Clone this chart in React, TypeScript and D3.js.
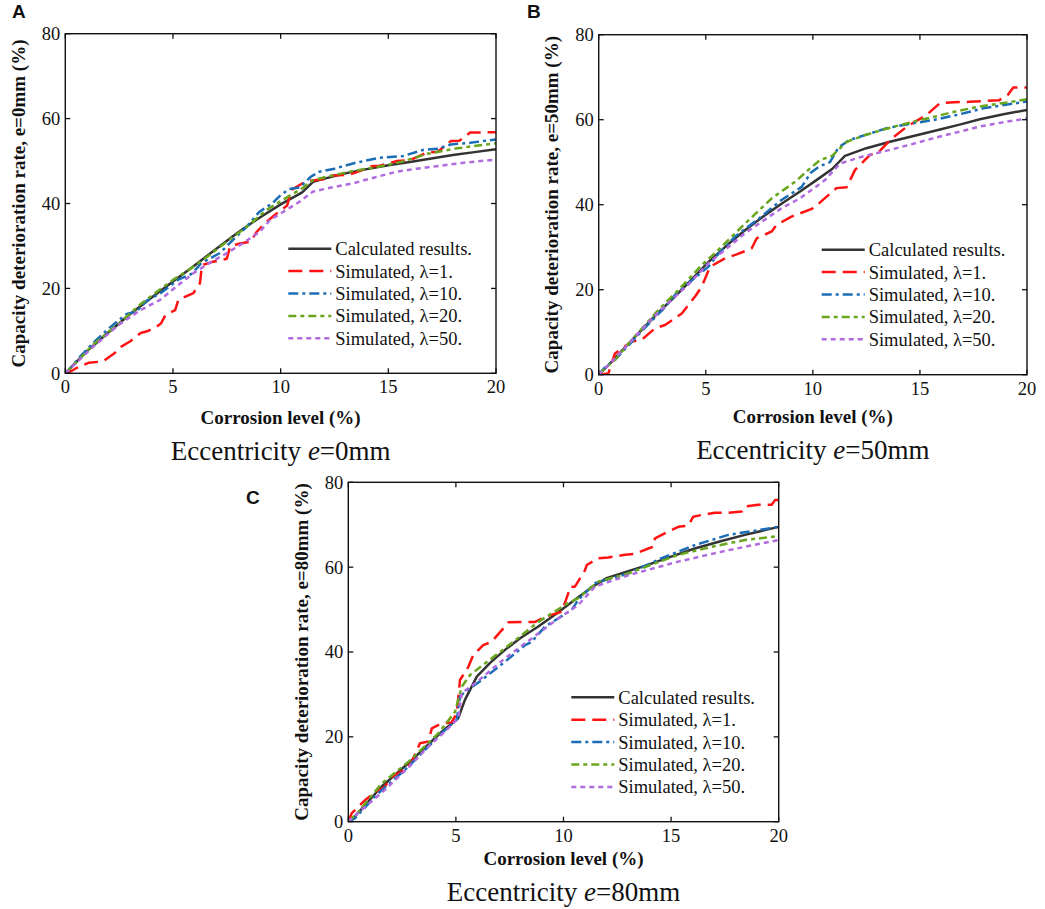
import * as d3 from 'd3';

type Pt = [number, number];

// ticks and legend
const xTicks = [0, 5, 10, 15, 20];
const yTicks = [0, 20, 40, 60, 80];
const seriesNames = ['Calculated results.', 'Simulated, λ=1.', 'Simulated, λ=10.', 'Simulated, λ=20.', 'Simulated, λ=50.'];
const seriesColors = ['#333333', '#ff1212', '#1b6db5', '#69a61e', '#b16be0'];
const seriesDash = ['', '14,7', '10,4,3,4', '8,4,4,4', '5,4'];

// panel A, e=0mm
const aCalc: Pt[] = [[0,0],[1,5.2],[2,9.6],[3,13.9],[4,17.8],[5,21.6],[6,25.4],[7,29.3],[8,33.1],[9,36.6],[10,39.8],[11,42.6],[11.5,45.1],[12,45.8],[13,47.1],[14,48.1],[15,49],[16,49.8],[17,50.6],[18,51.4],[19,52.1],[20,52.8]];
const aL1: Pt[] = [[0,0],[0.3,0.6],[0.5,1.2],[1.1,2.5],[1.75,2.8],[2.3,4.8],[2.6,6.3],[3,7.5],[3.5,9.5],[3.8,9.9],[4.25,11],[4.45,11.8],[4.65,13.7],[5.1,14.9],[5.25,17.3],[5.95,18.9],[6.25,21.2],[6.35,25.5],[6.8,26.2],[7.5,27],[7.65,29.8],[8.1,30.6],[8.6,31],[8.9,33.4],[9.35,35.7],[9.8,37.6],[10.3,39.5],[10.5,43.2],[11.2,45.3],[12,45.7],[12.4,46.6],[13.2,46.8],[13.6,47.5],[14.2,48.8],[14.6,48.9],[15.4,50],[16,50.2],[16.8,52],[17.3,52.2],[17.9,54.7],[18.3,54.8],[18.8,56.7],[20,56.8]];
const aL10: Pt[] = [[0,0],[0.3,1.6],[0.7,4],[1.3,7.2],[2,10.5],[2.85,14],[3.3,14.5],[3.8,17.2],[4.4,18.8],[5.3,22.2],[5.9,23.5],[6.3,25.9],[7.2,28.4],[7.6,30.5],[8.4,34.4],[9,38],[9.6,40],[10,42],[10.4,43.4],[10.9,43.8],[11.4,46.3],[11.8,47.5],[12.5,48.2],[13.4,49.5],[14.6,50.8],[15.7,51.2],[16.6,52.6],[17.3,52.9],[17.9,53.9],[18.8,54.3],[20,55.1]];
const aL20: Pt[] = [[0,0],[0.4,2],[1.3,6.8],[2.5,11.8],[3.5,16.3],[4.3,19.4],[5,22],[5.8,24.6],[6.6,27.5],[7.5,31],[8.5,34.8],[9.35,38.5],[10.6,42.4],[10.9,43.2],[11.5,45.5],[12.3,46.5],[13.2,47.5],[14.6,48.7],[15.6,49.8],[16.8,51.7],[18.2,53],[20,54.2]];
const aL50: Pt[] = [[0,0],[1.3,6.3],[2.5,11.5],[3.5,14.9],[4.4,17.3],[5.2,20.6],[5.95,23.6],[6.8,26.3],[7.5,28.3],[8.3,30.8],[9.04,33.4],[9.5,36.1],[10.4,38.9],[10.9,40.5],[11.5,42.8],[12.3,43.7],[13.4,44.8],[14.4,46.2],[15.4,47.5],[16.3,48.2],[17.25,48.8],[18.5,49.6],[19.7,50.2],[20,50.3]];

// panel B, e=50mm
const bCalc: Pt[] = [[0,0],[0.5,2.5],[1,5.2],[1.85,9.7],[2.7,14.2],[3.56,18.4],[4.3,22.2],[5.1,26.4],[6,30.5],[6.83,34],[7.7,37.3],[8.55,40.3],[9.4,43.1],[10.2,45.9],[10.9,48.4],[11.5,51.5],[12.5,53.3],[13.6,54.8],[14.8,56.3],[15.94,57.7],[16.9,58.9],[17.8,60.1],[18.9,61.3],[20,62.3]];
const bL1: Pt[] = [[0,0],[0.45,0.3],[0.76,5],[1.54,7.8],[2,8.2],[2.63,10.9],[3.1,11.7],[3.88,14.4],[4.5,18.4],[4.81,20.7],[5.2,25.4],[5.9,27.4],[6.44,28.3],[7.14,29.7],[7.38,32.1],[8.08,33.7],[8.3,35.2],[9,37.2],[9.95,39],[10.35,40.6],[11.1,43.9],[11.58,44.1],[11.97,48.2],[12.67,51.7],[13.1,52.5],[13.6,55.2],[14.4,58.4],[15.3,61.1],[15.94,63.9],[16.6,64.1],[17.3,64.2],[18.7,64.6],[19.1,65.8],[19.36,67.6],[20,67.6]];
const bL10: Pt[] = [[0,0],[0.3,1.8],[0.76,3.5],[1.5,7.5],[2.3,11.8],[3.1,15.9],[3.6,19],[4.3,22],[5.12,25.4],[5.6,28.5],[6.37,32.5],[7.6,37.2],[8.5,41],[9.48,44.2],[9.9,47.5],[10.3,49],[10.8,50],[11.2,53.5],[11.7,55.2],[12.5,56.5],[13.45,58],[14.5,59],[15.6,59.9],[16.8,61.2],[17.96,62.7],[19,63.5],[20,64.3]];
const bL20: Pt[] = [[0,0],[0.3,1.5],[0.76,3.5],[1.6,8.5],[2.78,15.2],[3.72,19.9],[4.81,25.8],[5.43,28.6],[6.68,34.8],[8.08,41.5],[9.2,45.5],[9.79,48.2],[10.33,50.5],[10.9,51.5],[11.58,54.8],[12.4,56.3],[13.3,57.7],[14.5,59.3],[15.6,60.6],[16.7,62],[17.8,63.1],[19,64],[20,64.8]];
const bL50: Pt[] = [[0,0],[0.5,2.5],[1.5,7.8],[2.5,13.3],[3.5,18],[4.3,21.8],[5.12,26.2],[6,29.8],[6.83,33.3],[7.7,36.3],[8.55,39.2],[9.4,41.5],[10.57,45.8],[11.27,49.7],[12.3,51.3],[13.6,52.9],[14.6,54.2],[15.6,55.6],[16.7,57],[17.8,58.4],[18.9,59.4],[20,60.3]];

// panel C, e=80mm
const cCalc: Pt[] = [[0,0],[0.16,0.4],[1.55,8.3],[2.95,14.5],[4.34,21.2],[5.11,24.4],[5.42,28.7],[5.97,34.2],[6.6,37.5],[7.28,40.5],[8,43.3],[8.83,46],[9.6,48.8],[10.53,52.3],[11.3,55.2],[12,57.4],[12.9,58.9],[13.79,60.3],[14.9,62.3],[16.1,64.4],[17.3,66.1],[18.43,67.6],[20,69.5]];
const cL1: Pt[] = [[0,0],[0.16,2],[0.78,5.1],[1.09,6.3],[1.7,8.3],[2.02,10.6],[2.63,12.2],[2.95,14.1],[3.33,18.5],[3.72,18.9],[3.88,22],[4.34,23.2],[4.8,23.4],[5.04,25.6],[5.19,33.4],[5.58,36.5],[5.81,39.3],[6.27,41.6],[6.66,42.4],[7.28,46],[7.44,47],[8.21,47.1],[8.68,47.1],[9.14,48.3],[9.92,49.5],[10.22,53.8],[10.3,55.4],[10.53,55.4],[11,59.3],[11.08,60.5],[11.62,62.1],[12.08,62.3],[12.86,62.9],[13.3,63.1],[13.94,64.4],[14.17,64.8],[14.25,66.8],[14.87,68.4],[15.33,69.5],[15.8,69.8],[16.03,71.9],[16.42,72.3],[17.04,72.8],[17.66,72.8],[18.28,73.1],[18.43,74.3],[19.05,74.7],[19.67,74.7],[19.83,75.8],[20,75.8]];
const cL10: Pt[] = [[0,0],[0.3,0.8],[1.39,6.7],[2.63,12.2],[3.72,17.7],[4.49,21.6],[5.04,24],[5.19,29.5],[5.42,30.6],[6.2,33.4],[7.28,37.7],[8.21,41.6],[8.52,42.4],[9.14,46],[10.38,49.9],[10.69,52.3],[11.46,56.2],[12.24,57.4],[13.01,58.5],[14.56,62.1],[16.1,65.2],[17.66,67.6],[20,69.5]];
const cL20: Pt[] = [[0,0],[0.5,2.5],[1.55,9],[2.79,14.1],[4.18,20.8],[4.96,25.9],[5.27,31.8],[5.66,34.6],[6.35,37.3],[7.59,42.1],[8.83,47.1],[10.07,51.1],[10.69,52.7],[11.62,56.6],[13,58.5],[14.2,60.8],[15.33,62.9],[16.9,64.8],[18.43,66.4],[20,67.3]];
const cL50: Pt[] = [[0,0],[0.5,2.3],[1.7,7.5],[2.8,12.8],[3.72,17.7],[4.5,21.3],[5.11,24.4],[5.27,30.3],[5.89,32.6],[7.28,38.5],[8.52,43.2],[9.76,47.9],[10.69,51.1],[11.46,55.4],[13.01,58.1],[15.33,61.3],[17.66,64],[20,66.4]];

const serif = '"Liberation Serif", "Times New Roman", serif';
const sans = '"Liberation Sans", Arial, sans-serif';

const panels = [
  { key: 'A', e: '0', series: [aCalc, aL1, aL10, aL20, aL50], l: 65.3, r: 496, t: 33.7, b: 373.3, lx: 12, ly: 18, xlab: 51, cap: 460 },
  { key: 'B', e: '50', series: [bCalc, bL1, bL10, bL20, bL50], l: 598.7, r: 1027, t: 34.7, b: 374.7, lx: 527, ly: 18, xlab: 48, cap: 459 },
  { key: 'C', e: '80', series: [cCalc, cL1, cL10, cL20, cL50], l: 348.3, r: 778.7, t: 482.3, b: 821.7, lx: 246, ly: 504, xlab: 43, cap: 901 },
];

function Panel({ p }: { p: typeof panels[number] }) {
  const x = d3.scaleLinear().domain([0, 20]).range([p.l, p.r]);
  const y = d3.scaleLinear().domain([0, 80]).range([p.b, p.t]);
  const line = d3.line<Pt>().x(d => x(d[0])).y(d => y(d[1]));
  const cx = (p.l + p.r) / 2;
  const cy = (p.t + p.b) / 2;
  const tick = 5;
  return (
    <g>
      <clipPath id={`clip${p.key}`}>
        <rect x={p.l} y={p.t} width={p.r - p.l} height={p.b - p.t} />
      </clipPath>
      <g clipPath={`url(#clip${p.key})`}>
        {p.series.map((s, i) => (
          <path key={i} d={line(s) || ''} fill="none" stroke={seriesColors[i]} strokeWidth={2.5}
            strokeDasharray={seriesDash[i] || undefined} strokeLinejoin="round" />
        ))}
      </g>
      {/* frame and inward ticks */}
      <rect x={p.l} y={p.t} width={p.r - p.l} height={p.b - p.t} fill="none" stroke="#111" strokeWidth={1.4} />
      {xTicks.map(v => (
        <g key={`x${v}`}>
          <line x1={x(v)} x2={x(v)} y1={p.b} y2={p.b - tick} stroke="#111" strokeWidth={1.3} />
          <line x1={x(v)} x2={x(v)} y1={p.t} y2={p.t + tick} stroke="#111" strokeWidth={1.3} />
          <text x={x(v)} y={p.b + 20} textAnchor="middle" fontFamily={serif} fontSize={18.5} fill="#111">{v}</text>
        </g>
      ))}
      {yTicks.map(v => (
        <g key={`y${v}`}>
          <line x1={p.l} x2={p.l + tick} y1={y(v)} y2={y(v)} stroke="#111" strokeWidth={1.3} />
          <line x1={p.r} x2={p.r - tick} y1={y(v)} y2={y(v)} stroke="#111" strokeWidth={1.3} />
          <text x={p.l - 5} y={y(v)} dy="0.35em" textAnchor="end" fontFamily={serif} fontSize={18.5} fill="#111">{v}</text>
        </g>
      ))}
      <text x={cx} y={p.b + p.xlab} textAnchor="middle" fontFamily={serif} fontWeight="bold" fontSize={19} fill="#111">Corrosion level (%)</text>
      <text transform={`translate(${p.l - 47},${cy}) rotate(-90)`} dy="0.35em" textAnchor="middle" fontFamily={serif}
        fontWeight="bold" fontSize={19} fill="#111">{`Capacity deterioration rate, e=${p.e}mm (%)`}</text>
      <text x={cx} y={p.cap} textAnchor="middle" fontFamily={serif} fontSize={27} fill="#111">
        Eccentricity <tspan fontStyle="italic">e</tspan>={p.e}mm
      </text>
      <text x={p.lx} y={p.ly} fontFamily={sans} fontWeight="bold" fontSize={19} fill="#111">{p.key}</text>
      {/* legend */}
      {seriesNames.map((name, i) => {
        const ly = p.t + 215 + i * 22.4;
        return (
          <g key={name}>
            <line x1={p.l + 223} x2={p.l + 266} y1={ly} y2={ly} stroke={seriesColors[i]} strokeWidth={2.5}
              strokeDasharray={seriesDash[i] || undefined} />
            <text x={p.l + 270} y={ly} dy="0.35em" fontFamily={serif} fontSize={18.5} fill="#111">{name}</text>
          </g>
        );
      })}
    </g>
  );
}

export default function App() {
  return (
    <svg width={1045} height={909} style={{ position: 'absolute', left: 0, top: 0, background: '#fff', display: 'block' }}>
      <rect width={1045} height={909} fill="#fff" />
      {panels.map(p => <Panel key={p.key} p={p} />)}
    </svg>
  );
}
